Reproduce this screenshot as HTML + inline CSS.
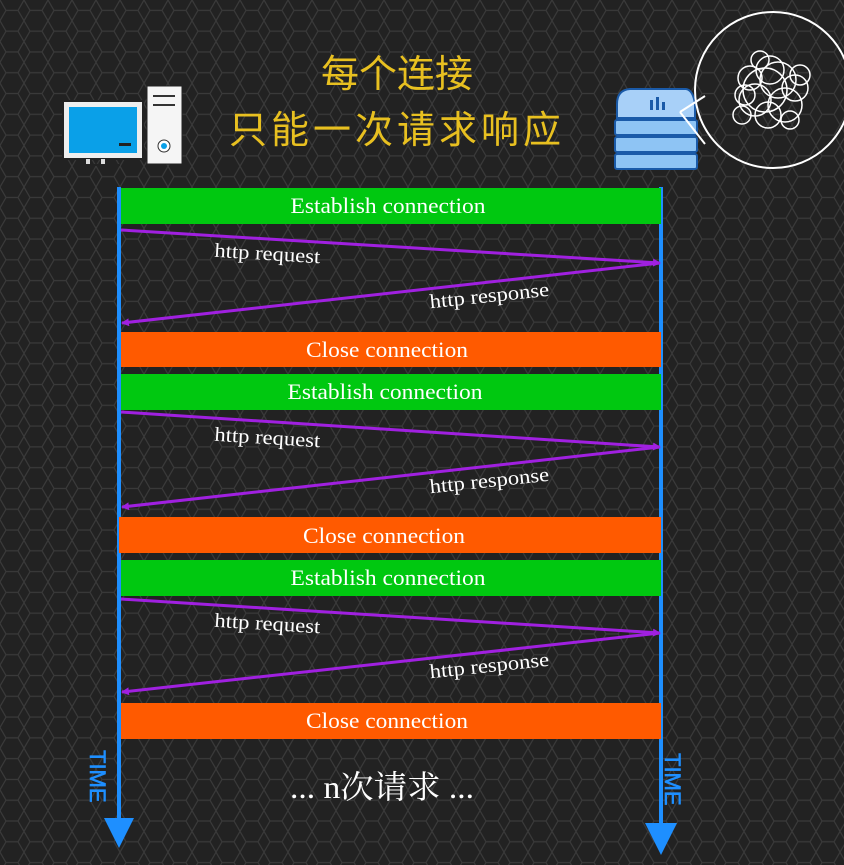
<!DOCTYPE html>
<html><head><meta charset="utf-8"><style>
html,body{margin:0;padding:0;background:#232323;}
svg{display:block;}
</style></head><body>
<svg width="844" height="865" viewBox="0 0 844 865" xmlns="http://www.w3.org/2000/svg">
<defs>
<pattern id="hex" width="24" height="41.57" patternUnits="userSpaceOnUse">
<path d="M0,0 L6,10.39 L18,10.39 L24,0 M6,10.39 L0,20.78 L6,31.18 L18,31.18 L24,20.78 L18,10.39 M6,31.18 L0,41.57 M18,31.18 L24,41.57" fill="none" stroke="#3a3a3a" stroke-width="1.2"/>
</pattern>
<marker id="arr" markerWidth="8" markerHeight="8" refX="7" refY="4" orient="auto" markerUnits="userSpaceOnUse"><path d="M0,0 L8,4 L0,8z" fill="#a020e0"/></marker>
</defs>
<rect width="844" height="865" fill="#222"/>
<rect width="844" height="865" fill="url(#hex)"/>

<g font-family="'Liberation Sans','Noto Sans CJK SC',sans-serif" fill="#e8c020" font-size="38" text-anchor="middle">
<text x="397" y="87">每个连接</text>
<text x="397" y="143" letter-spacing="4">只能一次请求响应</text>
</g>

<g>
<rect x="63" y="101" width="80" height="58" fill="#eee" stroke="#222" stroke-width="2"/>
<rect x="69" y="107" width="68" height="46" fill="#0aa0e8"/>
<rect x="119" y="143" width="12" height="3" fill="#222"/>
<rect x="86" y="159" width="4" height="6" fill="#ddd"/><rect x="101" y="159" width="4" height="6" fill="#ddd"/>
<rect x="74" y="164" width="46" height="2" fill="#222"/>
<rect x="147" y="86" width="35" height="78" fill="#f5f5f5" stroke="#222" stroke-width="1"/>
<rect x="153" y="95" width="22" height="2" fill="#333"/><rect x="153" y="104" width="22" height="2" fill="#333"/>
<circle cx="164" cy="146" r="6" fill="#fff" stroke="#333"/><circle cx="164" cy="146" r="3" fill="#0aa0e8"/>
</g>

<g>
<path d="M617,104 Q617,90 630,89 L686,89 Q693,90 695,104 L695,118 L617,118z" fill="#a8d0f8" stroke="#1a5aa8" stroke-width="2"/>
<rect x="650" y="100" width="3" height="10" fill="#1a5aa8"/><rect x="656" y="97" width="3" height="13" fill="#1a5aa8"/><rect x="662" y="102" width="3" height="8" fill="#1a5aa8"/>
<rect x="615" y="120" width="82" height="15" rx="2" fill="#8ec4f4" stroke="#1a5aa8" stroke-width="2"/>
<rect x="615" y="137" width="82" height="15" rx="2" fill="#8ec4f4" stroke="#1a5aa8" stroke-width="2"/>
<rect x="615" y="154" width="82" height="15" rx="2" fill="#8ec4f4" stroke="#1a5aa8" stroke-width="2"/>
</g>
<g fill="none" stroke="#ffffff" stroke-width="2">
<path d="M680,112 L705,96 M705,144 L680,112"/>
<ellipse cx="773" cy="90" rx="78" ry="78"/>
<g stroke="#ffffff" stroke-width="1.5" fill="none">
<circle cx="765" cy="90" r="22"/><circle cx="778" cy="80" r="18"/><circle cx="755" cy="100" r="16"/><circle cx="785" cy="105" r="17"/><circle cx="770" cy="70" r="14"/><circle cx="750" cy="78" r="12"/><circle cx="795" cy="88" r="13"/><circle cx="768" cy="115" r="13"/><circle cx="745" cy="95" r="10"/><circle cx="800" cy="75" r="10"/><circle cx="760" cy="60" r="9"/><circle cx="790" cy="120" r="9"/><circle cx="742" cy="115" r="9"/>
</g>
</g>

<g>
<rect x="117" y="187" width="4" height="635" fill="#1e8fff"/>
<path d="M104,818 L134,818 L119,848z" fill="#1e8fff"/>
<text x="0" y="0" transform="translate(90,750) rotate(90)" font-family="'Liberation Sans',sans-serif" font-size="22" fill="#1e8fff" stroke="#1e8fff" stroke-width="0.6">TIME</text>
</g>
<g>
<rect x="659" y="187" width="4" height="640" fill="#1e8fff"/>
<path d="M645,823 L677,823 L661,855z" fill="#1e8fff"/>
<text x="0" y="0" transform="translate(665,753) rotate(90)" font-family="'Liberation Sans',sans-serif" font-size="22" fill="#1e8fff" stroke="#1e8fff" stroke-width="0.6">TIME</text>
</g>

<g font-family="'Liberation Serif',serif" fill="#fff" text-anchor="middle" font-size="22">
<g>
<rect x="121" y="188" width="540" height="36" fill="#00c810"/>
<text x="388" y="213" textLength="195" lengthAdjust="spacingAndGlyphs">Establish connection</text>
<line x1="121" y1="230" x2="660" y2="263" stroke="#a020e0" stroke-width="3" marker-end="url(#arr)"/>
<line x1="660" y1="263" x2="122" y2="323" stroke="#a020e0" stroke-width="3" marker-end="url(#arr)"/>
<text x="267" y="260" font-size="20" textLength="106" lengthAdjust="spacingAndGlyphs" transform="rotate(3.5 267 260)">http request</text>
<text x="490" y="302" font-size="20" textLength="120" lengthAdjust="spacingAndGlyphs" transform="rotate(-6 490 302)">http response</text>
<rect x="121" y="332" width="540" height="35" fill="#ff5a00"/>
<text x="387" y="357" textLength="162" lengthAdjust="spacingAndGlyphs">Close connection</text>
</g>
<g>
<rect x="121" y="374" width="540" height="36" fill="#00c810"/>
<text x="385" y="399" textLength="195" lengthAdjust="spacingAndGlyphs">Establish connection</text>
<line x1="121" y1="412" x2="660" y2="447" stroke="#a020e0" stroke-width="3" marker-end="url(#arr)"/>
<line x1="660" y1="447" x2="122" y2="507" stroke="#a020e0" stroke-width="3" marker-end="url(#arr)"/>
<text x="267" y="444" font-size="20" textLength="106" lengthAdjust="spacingAndGlyphs" transform="rotate(3.5 267 444)">http request</text>
<text x="490" y="487" font-size="20" textLength="120" lengthAdjust="spacingAndGlyphs" transform="rotate(-6 490 487)">http response</text>
<rect x="119" y="517" width="542" height="36" fill="#ff5a00"/>
<text x="384" y="543" textLength="162" lengthAdjust="spacingAndGlyphs">Close connection</text>
</g>
<g>
<rect x="121" y="560" width="540" height="36" fill="#00c810"/>
<text x="388" y="585" textLength="195" lengthAdjust="spacingAndGlyphs">Establish connection</text>
<line x1="121" y1="599" x2="660" y2="633" stroke="#a020e0" stroke-width="3" marker-end="url(#arr)"/>
<line x1="660" y1="633" x2="122" y2="692" stroke="#a020e0" stroke-width="3" marker-end="url(#arr)"/>
<text x="267" y="630" font-size="20" textLength="106" lengthAdjust="spacingAndGlyphs" transform="rotate(3.5 267 630)">http request</text>
<text x="490" y="672" font-size="20" textLength="120" lengthAdjust="spacingAndGlyphs" transform="rotate(-6 490 672)">http response</text>
<rect x="121" y="703" width="540" height="36" fill="#ff5a00"/>
<text x="387" y="728" textLength="162" lengthAdjust="spacingAndGlyphs">Close connection</text>
</g>
<text x="382" y="798" font-size="32" textLength="184" lengthAdjust="spacingAndGlyphs" font-family="'Liberation Serif','Noto Serif CJK SC',serif">... n次请求 ...</text>
</g>
</svg>
</body></html>
